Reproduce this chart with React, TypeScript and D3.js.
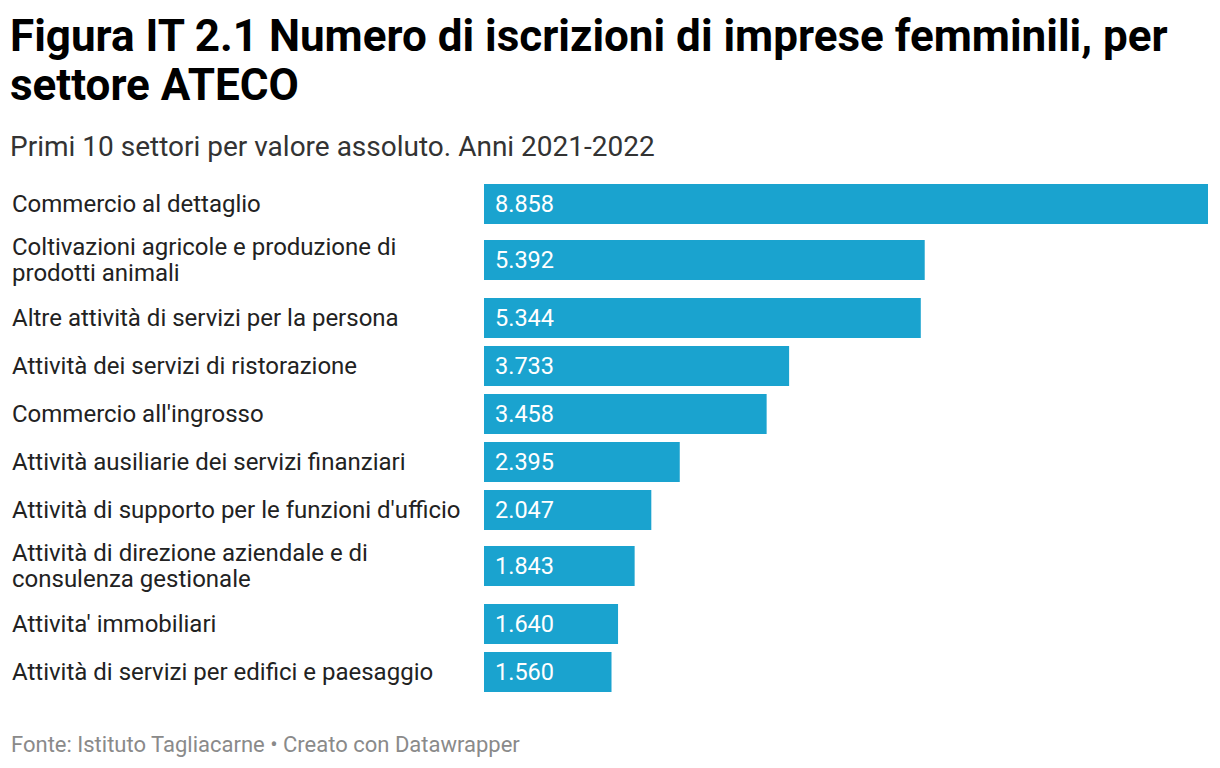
import React from "react";
import * as d3 from "d3";

const categories: string[][] = [
  ["Commercio al dettaglio"],
  ["Coltivazioni agricole e produzione di", "prodotti animali"],
  ["Altre attività di servizi per la persona"],
  ["Attività dei servizi di ristorazione"],
  ["Commercio all'ingrosso"],
  ["Attività ausiliarie dei servizi finanziari"],
  ["Attività di supporto per le funzioni d'ufficio"],
  ["Attività di direzione aziendale e di", "consulenza gestionale"],
  ["Attivita' immobiliari"],
  ["Attività di servizi per edifici e paesaggio"],
];
const values: number[] = [8858, 5392, 5344, 3733, 3458, 2395, 2047, 1843, 1640, 1560];

const titleLines = ["Figura IT 2.1 Numero di iscrizioni di imprese femminili, per", "settore ATECO"];
const subtitle = "Primi 10 settori per valore assoluto. Anni 2021-2022";
const footer = "Fonte: Istituto Tagliacarne • Creato con Datawrapper";

const W = 1220;
const H = 768;
const FONT = "Roboto, 'Noto Sans', sans-serif";
const BAR_COLOR = "#1aa3cf";

const fmt = (v: number) => d3.format(",")(v).replace(/,/g, ".");

export default function App() {
  const x = d3.scaleLinear().domain([0, d3.max(values) as number]).range([484, 1208]);
  const barH = 40;
  const lineH = 26;
  let y = 184;
  const rows = categories.map((lines, i) => {
    const extra = (lines.length - 1) * 8;
    const barTop = y + extra;
    const rowH = 48 + (lines.length - 1) * 18;
    y += rowH;
    return { lines, value: values[i], barTop, center: barTop + barH / 2 };
  });

  return (
    <svg width={W} height={H} style={{ position: "absolute", left: 0, top: 0, background: "#fff" }} fontFamily={FONT}>
      <rect width={W} height={H} fill="#fff" />
      {titleLines.map((t, i) => (
        <text key={i} x={10} y={51 + i * 49} fontSize={44} fontWeight={700} fill="#000">
          {t}
        </text>
      ))}
      <text x={10} y={156} fontSize={28} fill="#333">
        {subtitle}
      </text>
      {rows.map((r, i) => (
        <g key={i}>
          {r.lines.map((l, j) => (
            <text
              key={j}
              x={12}
              y={r.center + 8 + (j - (r.lines.length - 1) / 2) * lineH}
              fontSize={24}
              fill="#222"
            >
              {l}
            </text>
          ))}
          <rect x={x(0)} y={r.barTop} width={x(r.value) - x(0)} height={barH} fill={BAR_COLOR} />
          <text x={x(0) + 11} y={r.center + 8} fontSize={23.5} fill="#fff">
            {fmt(r.value)}
          </text>
        </g>
      ))}
      <text x={11} y={752} fontSize={22} fill="#8a8a8a">
        {footer}
      </text>
    </svg>
  );
}
